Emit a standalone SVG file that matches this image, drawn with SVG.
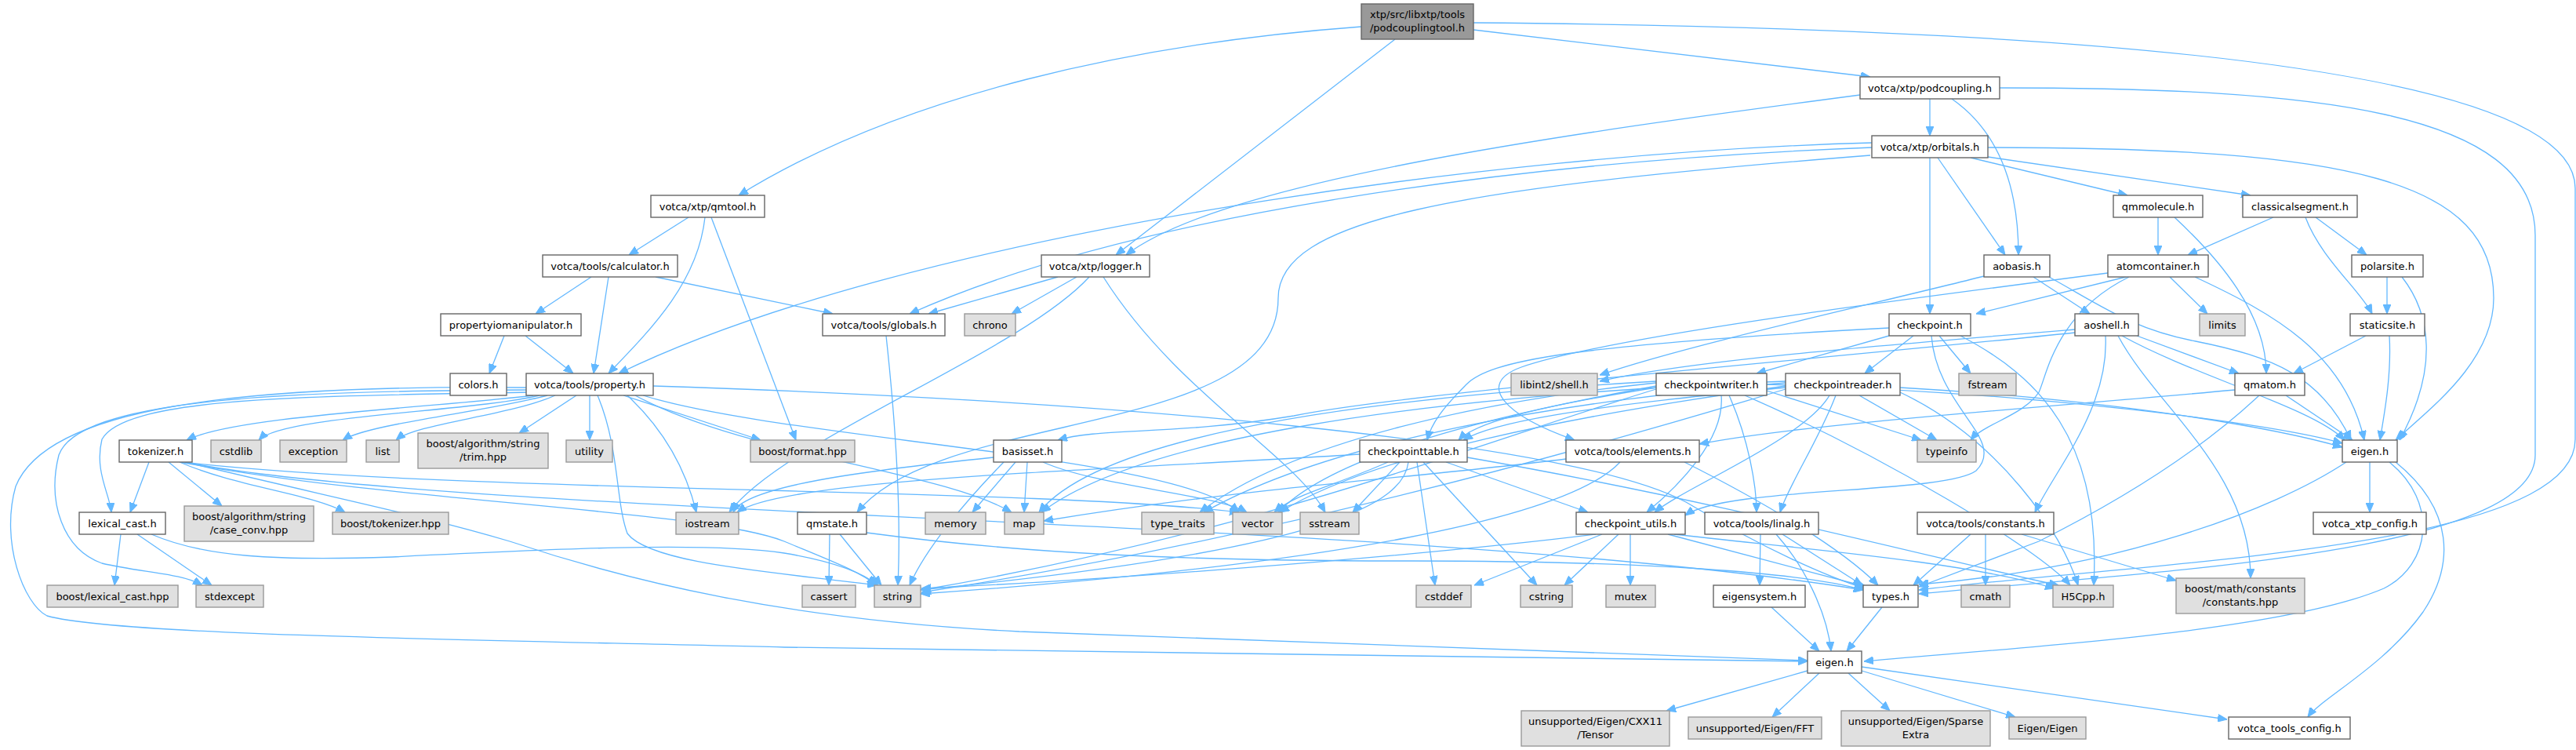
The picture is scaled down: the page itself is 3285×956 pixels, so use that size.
<svg xmlns="http://www.w3.org/2000/svg" width="3285" height="956" viewBox="0 0 3285 956">
<style>
.n rect{fill:#ffffff;stroke:#666666;stroke-width:1.4}
.g rect{fill:#e0e0e0;stroke:#999999;stroke-width:1.4}
.r rect{fill:#999999;stroke:#666666;stroke-width:1.4}
text{font-family:"DejaVu Sans",sans-serif;font-size:13px;fill:#000000;text-anchor:middle}
#edges path{fill:none;stroke:#63b8ff;stroke-width:1.3;marker-end:url(#a)}
</style>
<defs>
<marker id="a" markerUnits="userSpaceOnUse" markerWidth="12" markerHeight="10" refX="12" refY="5" orient="auto" viewBox="0 0 12 10"><path d="M0,0 L12,5 L0,10 z" fill="#63b8ff" stroke="#63b8ff"/></marker>
</defs>
<rect width="3285" height="956" fill="#ffffff"/>
<g id="edges">
<path d="M1736,34 C1450,55 1150,120 942,249"/>
<path d="M1779,50 L1423,325"/>
<path d="M1879,38 L2385,98"/>
<path d="M1879,29 C2600,35 3284,80 3284,240 L3284,560 C3284,700 2750,715 2447,752"/>
<path d="M2372,121 C2000,170 1560,230 1436,325"/>
<path d="M2461,126 L2461,173"/>
<path d="M2489,126 C2545,165 2574,230 2574,325"/>
<path d="M2550,112 C2950,112 3233,140 3233,300 L3233,580 C3233,705 2750,728 2447,757"/>
<path d="M2387,182 C1900,195 1150,300 789,476"/>
<path d="M2387,188 C1950,205 1450,270 1160,400"/>
<path d="M2385,198 C1850,240 1630,280 1630,380 C1630,560 1200,520 1093,653"/>
<path d="M2461,201 L2461,400"/>
<path d="M2471,201 L2557,325"/>
<path d="M2513,201 L2713,249"/>
<path d="M2535,200 L2870,249"/>
<path d="M2535,188 C3000,188 3180,230 3180,380 C3180,460 3100,520 3055,561"/>
<path d="M878,277 L802,325"/>
<path d="M899,277 C890,360 830,420 776,476"/>
<path d="M907,277 L1015,561"/>
<path d="M2752,277 L2752,325"/>
<path d="M2773,277 C2830,330 2890,400 2890,476"/>
<path d="M2899,277 L2790,325"/>
<path d="M2940,277 C2960,330 3010,370 3025,400"/>
<path d="M2953,277 L3018,325"/>
<path d="M754,353 L683,400"/>
<path d="M776,353 L757,476"/>
<path d="M836,353 L1062,400"/>
<path d="M1349,353 L1184,400"/>
<path d="M1373,353 L1290,400"/>
<path d="M1389,353 C1300,450 1000,560 930,653"/>
<path d="M1407,353 C1500,500 1650,580 1690,653"/>
<path d="M2593,353 L2665,400"/>
<path d="M2613,353 C2680,390 2720,420 2800,435 C2900,455 2960,480 2998,561"/>
<path d="M2530,352 C2400,385 2150,440 2040,478"/>
<path d="M2711,353 L2520,400"/>
<path d="M2767,353 L2815,400"/>
<path d="M2799,353 C2900,400 2990,450 3015,561"/>
<path d="M2715,353 C2620,400 2610,480 2600,500 C2580,530 2530,540 2513,561"/>
<path d="M2688,348 C2400,385 2050,430 1940,468 C1880,490 1920,530 2008,561"/>
<path d="M3044,353 L3044,400"/>
<path d="M3063,353 C3100,400 3110,470 3060,561"/>
<path d="M643,428 L624,476"/>
<path d="M670,428 L731,476"/>
<path d="M1130,428 C1140,520 1150,640 1145,746"/>
<path d="M680,504 C550,520 300,530 238,561"/>
<path d="M688,504 C600,525 360,530 330,561"/>
<path d="M698,504 C620,525 470,540 437,561"/>
<path d="M708,504 C650,530 530,540 505,561"/>
<path d="M735,504 L662,552"/>
<path d="M752,504 L752,561"/>
<path d="M795,504 L970,561"/>
<path d="M675,500 C400,505 160,505 130,560 C120,600 140,630 142,653"/>
<path d="M673,497 C350,498 100,510 75,580 C60,640 80,700 130,718 C180,730 230,730 258,746"/>
<path d="M671,494 C300,490 60,520 20,620 C0,690 30,770 60,785 C150,810 600,815 1000,825 L2305,843"/>
<path d="M762,504 C790,570 785,640 800,680 C830,720 1000,730 1118,746"/>
<path d="M800,504 C860,560 880,620 888,653"/>
<path d="M810,504 C950,580 1200,600 1290,653"/>
<path d="M820,504 C1000,560 1500,580 1580,653"/>
<path d="M833,492 C1400,510 2000,560 2150,640 C2250,700 2330,735 2378,750"/>
<path d="M190,589 L166,653"/>
<path d="M215,589 L283,645"/>
<path d="M229,589 C300,620 400,630 440,653"/>
<path d="M230,589 C500,640 900,650 1000,690 C1060,715 1100,730 1117,746"/>
<path d="M232,589 C600,630 1300,620 1580,653"/>
<path d="M235,589 C600,660 1800,660 2376,752"/>
<path d="M236,589 C450,640 550,660 650,690 C800,740 1000,790 1300,805 C1700,820 2100,835 2305,842"/>
<path d="M154,681 L146,746"/>
<path d="M175,681 L270,746"/>
<path d="M193,681 C260,710 350,715 500,710 C700,700 900,690 1000,705 C1060,715 1100,730 1120,746"/>
<path d="M1058,681 L1057,746"/>
<path d="M1071,681 L1124,746"/>
<path d="M1105,679 C1300,705 1500,715 1800,715 C2100,715 2300,730 2376,752"/>
<path d="M1267,583 C1100,600 950,620 935,653"/>
<path d="M1280,589 C1230,640 1180,700 1160,746"/>
<path d="M1295,589 L1240,653"/>
<path d="M1310,589 L1306,653"/>
<path d="M1330,589 C1400,620 1550,630 1590,653"/>
<path d="M1734,579 C1400,600 1000,610 940,653"/>
<path d="M1770,589 C1700,620 1650,630 1625,653"/>
<path d="M1785,589 L1725,653"/>
<path d="M1796,589 C1790,640 1700,700 1174,752"/>
<path d="M1807,589 L1830,746"/>
<path d="M1815,589 L1960,746"/>
<path d="M1844,589 L2025,653"/>
<path d="M1871,583 C2200,640 2500,720 2625,746"/>
<path d="M1997,585 C1800,610 1600,620 1331,664"/>
<path d="M2066,589 C2000,660 1700,720 1174,757"/>
<path d="M2148,589 C2250,640 2350,700 2395,746"/>
<path d="M2112,494 C1950,520 1880,540 1860,561"/>
<path d="M2195,504 C2200,560 2140,620 2100,653"/>
<path d="M2205,504 C2230,560 2240,620 2240,653"/>
<path d="M2253,498 L2450,561"/>
<path d="M2253,490 C2600,500 2900,540 2987,565"/>
<path d="M2225,504 C2400,580 2600,700 2640,746"/>
<path d="M2112,488 C1900,510 1650,560 1530,653"/>
<path d="M2112,492 C1900,530 1700,580 1630,653"/>
<path d="M2112,486 C1700,510 1400,560 1325,653"/>
<path d="M2112,496 C1900,560 1600,680 1175,752"/>
<path d="M2277,494 C2000,520 1900,540 1866,561"/>
<path d="M2333,504 C2300,560 2150,620 2110,653"/>
<path d="M2341,504 C2320,560 2280,620 2270,653"/>
<path d="M2371,504 L2470,561"/>
<path d="M2423,494 C2700,510 2900,545 2987,570"/>
<path d="M2423,500 C2550,560 2630,680 2650,746"/>
<path d="M2277,488 C2000,510 1700,560 1535,653"/>
<path d="M2277,492 C2000,530 1750,580 1632,653"/>
<path d="M2277,486 C1800,505 1450,560 1328,653"/>
<path d="M2277,496 C2000,580 1600,690 1175,755"/>
<path d="M2409,428 L2240,476"/>
<path d="M2440,428 L2378,476"/>
<path d="M2473,428 L2513,476"/>
<path d="M2500,428 C2600,480 2680,560 2670,746"/>
<path d="M2463,428 C2470,520 2560,560 2520,600 C2480,630 2200,620 2149,657"/>
<path d="M2409,418 C2000,440 1900,460 1870,490 C1840,520 1825,540 1820,561"/>
<path d="M2850,497 C2600,520 2300,540 2167,566"/>
<path d="M2915,504 L3000,561"/>
<path d="M2881,504 C2800,580 2700,640 2600,690 C2520,720 2480,735 2447,748"/>
<path d="M3017,428 L2925,476"/>
<path d="M3047,428 C3050,480 3040,530 3035,561"/>
<path d="M2646,420 C2400,440 2150,460 2040,486"/>
<path d="M2646,424 C2300,460 1800,500 1650,530 C1500,555 1400,545 1349,561"/>
<path d="M2725,428 L2855,476"/>
<path d="M2706,428 C2800,480 2950,520 2990,561"/>
<path d="M2701,428 C2750,520 2870,600 2870,737"/>
<path d="M2685,428 C2690,520 2620,600 2595,653"/>
<path d="M2992,589 C2900,650 2700,725 2447,745"/>
<path d="M3022,589 L3022,653"/>
<path d="M3047,589 C3110,640 3100,720 3040,750 C2900,810 2500,830 2377,843"/>
<path d="M3055,589 C3130,650 3130,720 3090,780 C3040,850 2960,890 2943,914"/>
<path d="M2532,681 L2532,746"/>
<path d="M2578,681 L2775,740"/>
<path d="M2513,681 L2440,746"/>
<path d="M2035,681 C1800,710 1400,740 1175,750"/>
<path d="M2043,681 L1880,746"/>
<path d="M2064,681 L1995,746"/>
<path d="M2079,681 L2079,746"/>
<path d="M2127,681 L2380,748"/>
<path d="M2135,681 C2300,700 2500,715 2620,750"/>
<path d="M2245,681 L2244,746"/>
<path d="M2265,681 C2300,720 2330,780 2335,830"/>
<path d="M2273,681 L2375,746"/>
<path d="M2259,774 L2320,830"/>
<path d="M2400,774 L2355,830"/>
<path d="M2305,855 L2125,906"/>
<path d="M2320,858 L2260,914"/>
<path d="M2357,858 L2410,906"/>
<path d="M2374,855 L2570,914"/>
<path d="M2374,850 L2840,917"/>
</g>
<g id="root" class="r"><rect x="1736" y="5" width="143" height="45"/><text x="1807.5" y="23">xtp/src/libxtp/tools</text><text x="1807.5" y="40">/podcouplingtool.h</text></g>
<g id="podcoupling" class="n"><rect x="2372" y="98" width="178" height="28"/><text x="2461" y="117">votca/xtp/podcoupling.h</text></g>
<g id="orbitals" class="n"><rect x="2387" y="173" width="148" height="28"/><text x="2461" y="192">votca/xtp/orbitals.h</text></g>
<g id="qmtool" class="n"><rect x="830" y="249" width="145" height="28"/><text x="902.5" y="268">votca/xtp/qmtool.h</text></g>
<g id="qmmolecule" class="n"><rect x="2695" y="249" width="114" height="28"/><text x="2752" y="268">qmmolecule.h</text></g>
<g id="classicalsegment" class="n"><rect x="2860" y="249" width="146" height="28"/><text x="2933" y="268">classicalsegment.h</text></g>
<g id="calculator" class="n"><rect x="692" y="325" width="172" height="28"/><text x="778" y="344">votca/tools/calculator.h</text></g>
<g id="logger" class="n"><rect x="1328" y="325" width="138" height="28"/><text x="1397" y="344">votca/xtp/logger.h</text></g>
<g id="aobasis" class="n"><rect x="2530" y="325" width="84" height="28"/><text x="2572" y="344">aobasis.h</text></g>
<g id="atomcontainer" class="n"><rect x="2688" y="325" width="128" height="28"/><text x="2752" y="344">atomcontainer.h</text></g>
<g id="polarsite" class="n"><rect x="2999" y="325" width="91" height="28"/><text x="3044.5" y="344">polarsite.h</text></g>
<g id="propertyiomanipulator" class="n"><rect x="562" y="400" width="179" height="28"/><text x="651.5" y="419">propertyiomanipulator.h</text></g>
<g id="globals" class="n"><rect x="1049" y="400" width="156" height="28"/><text x="1127" y="419">votca/tools/globals.h</text></g>
<g id="chrono" class="g"><rect x="1230" y="400" width="65" height="28"/><text x="1262.5" y="419">chrono</text></g>
<g id="checkpoint" class="n"><rect x="2409" y="400" width="104" height="28"/><text x="2461" y="419">checkpoint.h</text></g>
<g id="aoshell" class="n"><rect x="2646" y="400" width="81" height="28"/><text x="2686.5" y="419">aoshell.h</text></g>
<g id="limits" class="g"><rect x="2805" y="400" width="58" height="28"/><text x="2834" y="419">limits</text></g>
<g id="staticsite" class="n"><rect x="2997" y="400" width="95" height="28"/><text x="3044.5" y="419">staticsite.h</text></g>
<g id="colors" class="n"><rect x="574" y="476" width="72" height="28"/><text x="610" y="495">colors.h</text></g>
<g id="property" class="n"><rect x="671" y="476" width="162" height="28"/><text x="752" y="495">votca/tools/property.h</text></g>
<g id="libint2" class="g"><rect x="1927" y="476" width="110" height="28"/><text x="1982" y="495">libint2/shell.h</text></g>
<g id="checkpointwriter" class="n"><rect x="2112" y="476" width="141" height="28"/><text x="2182.5" y="495">checkpointwriter.h</text></g>
<g id="checkpointreader" class="n"><rect x="2277" y="476" width="146" height="28"/><text x="2350" y="495">checkpointreader.h</text></g>
<g id="fstream" class="g"><rect x="2498" y="476" width="73" height="28"/><text x="2534.5" y="495">fstream</text></g>
<g id="qmatom" class="n"><rect x="2850" y="476" width="89" height="28"/><text x="2894.5" y="495">qmatom.h</text></g>
<g id="tokenizer" class="n"><rect x="152" y="561" width="93" height="28"/><text x="198.5" y="580">tokenizer.h</text></g>
<g id="cstdlib" class="g"><rect x="269" y="561" width="64" height="28"/><text x="301" y="580">cstdlib</text></g>
<g id="exception" class="g"><rect x="357" y="561" width="85" height="28"/><text x="399.5" y="580">exception</text></g>
<g id="list" class="g"><rect x="467" y="561" width="42" height="28"/><text x="488" y="580">list</text></g>
<g id="trim" class="g"><rect x="533" y="552" width="166" height="45"/><text x="616" y="570">boost/algorithm/string</text><text x="616" y="587">/trim.hpp</text></g>
<g id="utility" class="g"><rect x="722" y="561" width="59" height="28"/><text x="751.5" y="580">utility</text></g>
<g id="format" class="g"><rect x="957" y="561" width="133" height="28"/><text x="1023.5" y="580">boost/format.hpp</text></g>
<g id="basisset" class="n"><rect x="1267" y="561" width="87" height="28"/><text x="1310.5" y="580">basisset.h</text></g>
<g id="checkpointtable" class="n"><rect x="1734" y="561" width="137" height="28"/><text x="1802.5" y="580">checkpointtable.h</text></g>
<g id="elements" class="n"><rect x="1997" y="561" width="170" height="28"/><text x="2082" y="580">votca/tools/elements.h</text></g>
<g id="typeinfo" class="g"><rect x="2445" y="561" width="75" height="28"/><text x="2482.5" y="580">typeinfo</text></g>
<g id="eigen_xtp" class="n"><rect x="2987" y="561" width="70" height="28"/><text x="3022" y="580">eigen.h</text></g>
<g id="lexical_cast" class="n"><rect x="101" y="653" width="110" height="28"/><text x="156" y="672">lexical_cast.h</text></g>
<g id="case_conv" class="g"><rect x="235" y="645" width="165" height="45"/><text x="317.5" y="663">boost/algorithm/string</text><text x="317.5" y="680">/case_conv.hpp</text></g>
<g id="btokenizer" class="g"><rect x="424" y="653" width="148" height="28"/><text x="498" y="672">boost/tokenizer.hpp</text></g>
<g id="iostream" class="g"><rect x="862" y="653" width="80" height="28"/><text x="902" y="672">iostream</text></g>
<g id="qmstate" class="n"><rect x="1017" y="653" width="88" height="28"/><text x="1061" y="672">qmstate.h</text></g>
<g id="memory" class="g"><rect x="1180" y="653" width="77" height="28"/><text x="1218.5" y="672">memory</text></g>
<g id="map" class="g"><rect x="1281" y="653" width="50" height="28"/><text x="1306" y="672">map</text></g>
<g id="type_traits" class="g"><rect x="1456" y="653" width="92" height="28"/><text x="1502" y="672">type_traits</text></g>
<g id="vector" class="g"><rect x="1572" y="653" width="63" height="28"/><text x="1603.5" y="672">vector</text></g>
<g id="sstream" class="g"><rect x="1658" y="653" width="75" height="28"/><text x="1695.5" y="672">sstream</text></g>
<g id="checkpoint_utils" class="n"><rect x="2010" y="653" width="139" height="28"/><text x="2079.5" y="672">checkpoint_utils.h</text></g>
<g id="linalg" class="n"><rect x="2174" y="653" width="145" height="28"/><text x="2246.5" y="672">votca/tools/linalg.h</text></g>
<g id="constants" class="n"><rect x="2445" y="653" width="174" height="28"/><text x="2532" y="672">votca/tools/constants.h</text></g>
<g id="xtp_config" class="n"><rect x="2950" y="653" width="144" height="28"/><text x="3022" y="672">votca_xtp_config.h</text></g>
<g id="boost_lexical_cast" class="g"><rect x="60" y="746" width="167" height="28"/><text x="143.5" y="765">boost/lexical_cast.hpp</text></g>
<g id="stdexcept" class="g"><rect x="250" y="746" width="86" height="28"/><text x="293" y="765">stdexcept</text></g>
<g id="cassert" class="g"><rect x="1023" y="746" width="68" height="28"/><text x="1057" y="765">cassert</text></g>
<g id="string" class="g"><rect x="1115" y="746" width="59" height="28"/><text x="1144.5" y="765">string</text></g>
<g id="cstddef" class="g"><rect x="1806" y="746" width="70" height="28"/><text x="1841" y="765">cstddef</text></g>
<g id="cstring" class="g"><rect x="1939" y="746" width="66" height="28"/><text x="1972" y="765">cstring</text></g>
<g id="mutex" class="g"><rect x="2048" y="746" width="63" height="28"/><text x="2079.5" y="765">mutex</text></g>
<g id="eigensystem" class="n"><rect x="2185" y="746" width="117" height="28"/><text x="2243.5" y="765">eigensystem.h</text></g>
<g id="types" class="n"><rect x="2376" y="746" width="70" height="28"/><text x="2411" y="765">types.h</text></g>
<g id="cmath" class="g"><rect x="2501" y="746" width="62" height="28"/><text x="2532" y="765">cmath</text></g>
<g id="H5Cpp" class="g"><rect x="2618" y="746" width="77" height="28"/><text x="2656.5" y="765">H5Cpp.h</text></g>
<g id="boost_constants" class="g"><rect x="2775" y="737" width="164" height="45"/><text x="2857" y="755">boost/math/constants</text><text x="2857" y="772">/constants.hpp</text></g>
<g id="eigen_tools" class="n"><rect x="2305" y="830" width="69" height="28"/><text x="2339.5" y="849">eigen.h</text></g>
<g id="tensor" class="g"><rect x="1940" y="906" width="189" height="45"/><text x="2034.5" y="924">unsupported/Eigen/CXX11</text><text x="2034.5" y="941">/Tensor</text></g>
<g id="fft" class="g"><rect x="2153" y="914" width="170" height="28"/><text x="2238" y="933">unsupported/Eigen/FFT</text></g>
<g id="sparse" class="g"><rect x="2348" y="906" width="190" height="45"/><text x="2443" y="924">unsupported/Eigen/Sparse</text><text x="2443" y="941">Extra</text></g>
<g id="eigen_eigen" class="g"><rect x="2562" y="914" width="98" height="28"/><text x="2611" y="933">Eigen/Eigen</text></g>
<g id="tools_config" class="n"><rect x="2842" y="914" width="155" height="28"/><text x="2919.5" y="933">votca_tools_config.h</text></g>
</svg>
